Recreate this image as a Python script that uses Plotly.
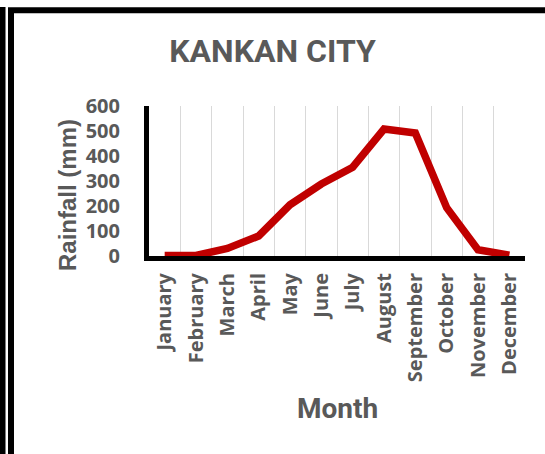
import plotly.graph_objects as go

months = ['January', 'February', 'March', 'April', 'May', 'June', 'July',
          'August', 'September', 'October', 'November', 'December']
rainfall = [2, 2, 30, 80, 205, 288, 355, 508, 492, 193, 25, 3]

W, H = 545, 454
L, R, T, B = 149, 20, 106, 198
GRAY = '#595959'


def px_x(x):
    return (x - L) / (W - L - R)


def px_y(y):
    return (H - B - y) / (H - T - B)


fig = go.Figure(go.Scatter(
    x=months, y=rainfall, mode='lines',
    line=dict(color='#C00000', width=7.5),
    hoverinfo='x+y'
))

# double border on the left, single along the top
frame = [
    (2.5, 7, 2.5, H + 5),
    (11, 10, 11, H + 5),
    (8, 10.3, W + 5, 10.3),
]
shapes = [dict(type='line', xref='paper', yref='paper',
               x0=px_x(a), y0=px_y(b), x1=px_x(c), y1=px_y(d),
               line=dict(color='black', width=6)) for a, b, c, d in frame]

fig.update_layout(
    width=W, height=H, autosize=False,
    margin=dict(l=L, r=R, t=T, b=B, pad=0),
    paper_bgcolor='white', plot_bgcolor='white',
    showlegend=False,
    shapes=shapes,
    title=dict(text='KANKAN CITY', x=0.5, xanchor='center', y=1 - 51 / H, yanchor='middle',
               font=dict(family='Roboto, Arial', size=32, color=GRAY, weight='bold')),
    annotations=[
        dict(text='<b>Rainfall (mm)</b>', textangle=-90, xref='paper', yref='paper',
             x=px_x(67), y=px_y(195), showarrow=False, xanchor='center', yanchor='middle',
             font=dict(family='Liberation Sans, Arial', size=24, color=GRAY)),
        dict(text='<b>Month</b>', xref='paper', yref='paper',
             x=px_x(337), y=px_y(408), showarrow=False, xanchor='center', yanchor='middle',
             font=dict(family='Roboto, Arial', size=28, color=GRAY)),
    ],
)

fig.update_xaxes(
    type='category', range=[-0.5, 11.5], tickson='boundaries',
    showgrid=True, gridcolor='#D9D9D9', gridwidth=1,
    showline=True, linecolor='black', linewidth=5,
    ticks='', tickangle=-90, ticklabelstandoff=4,
    tickfont=dict(family='Open Sans', size=20, color=GRAY, weight='bold'),
    zeroline=False, fixedrange=True
)
fig.update_yaxes(
    range=[0, 600], dtick=100, showgrid=False, zeroline=False,
    showline=True, linecolor='black', linewidth=5,
    ticks='', ticklabelstandoff=20,
    tickfont=dict(family='Open Sans', size=20, color=GRAY, weight='bold'),
    fixedrange=True
)

fig.write_html("out.html", config={'displayModeBar': False},
               post_script="document.body.style.margin='0';")
